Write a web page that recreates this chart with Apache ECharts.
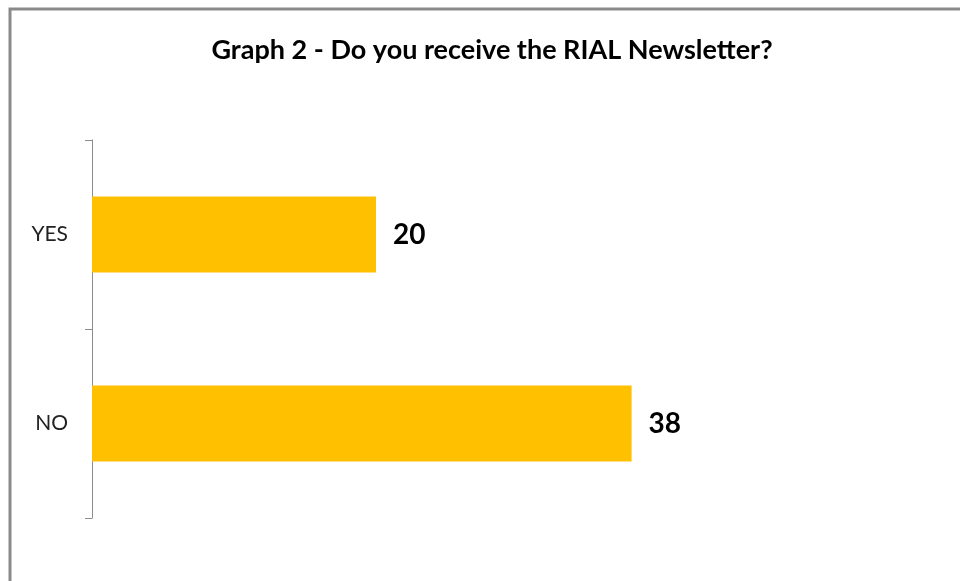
<!DOCTYPE html>
<html>
<head>
<meta charset="utf-8">
<script src="https://cdn.jsdelivr.net/npm/echarts@6/dist/echarts.min.js"></script>
<style>
html,body{margin:0;padding:0;background:#fff;}
#chart{width:960px;height:581px;}
</style>
</head>
<body>
<div id="chart"></div>
<script>
const titleText = 'Graph 2 - Do you receive the RIAL Newsletter?';
const categories = ['YES', 'NO'];
const values = [20, 38];

const chart = echarts.init(document.getElementById('chart'), null, {renderer: 'canvas'});
chart.setOption({
  animation: false,
  backgroundColor: '#ffffff',
  title: {
    text: titleText,
    left: 487,
    textAlign: 'center',
    top: 32,
    textStyle: {fontFamily: 'Lato', fontWeight: 'bold', fontSize: 27, color: '#000'}
  },
  graphic: [{
    type: 'rect',
    shape: {x: 10, y: 9, width: 1000, height: 1000},
    style: {fill: 'none', stroke: '#8a8a8a', lineWidth: 3},
    silent: true
  }],
  grid: {left: 92, top: 140, width: 852, bottom: 63},
  xAxis: {
    type: 'value', min: 0, max: 60, show: false
  },
  yAxis: {
    type: 'category',
    data: categories,
    inverse: true,
    axisLine: {show: true, lineStyle: {color: '#8c8c8c', width: 1}},
    axisTick: {show: true, length: 7, lineStyle: {color: '#8c8c8c'}},
    axisLabel: {fontFamily: 'Lato', fontSize: 21, color: '#222', margin: 24},
    splitLine: {show: false}
  },
  series: [{
    type: 'bar',
    data: values,
    barWidth: 76,
    itemStyle: {color: '#FFC000'},
    label: {
      show: true, position: 'right', distance: 17,
      fontFamily: 'Lato', fontWeight: 'bold', fontSize: 28, color: '#000'
    }
  }]
});
</script>
</body>
</html>
